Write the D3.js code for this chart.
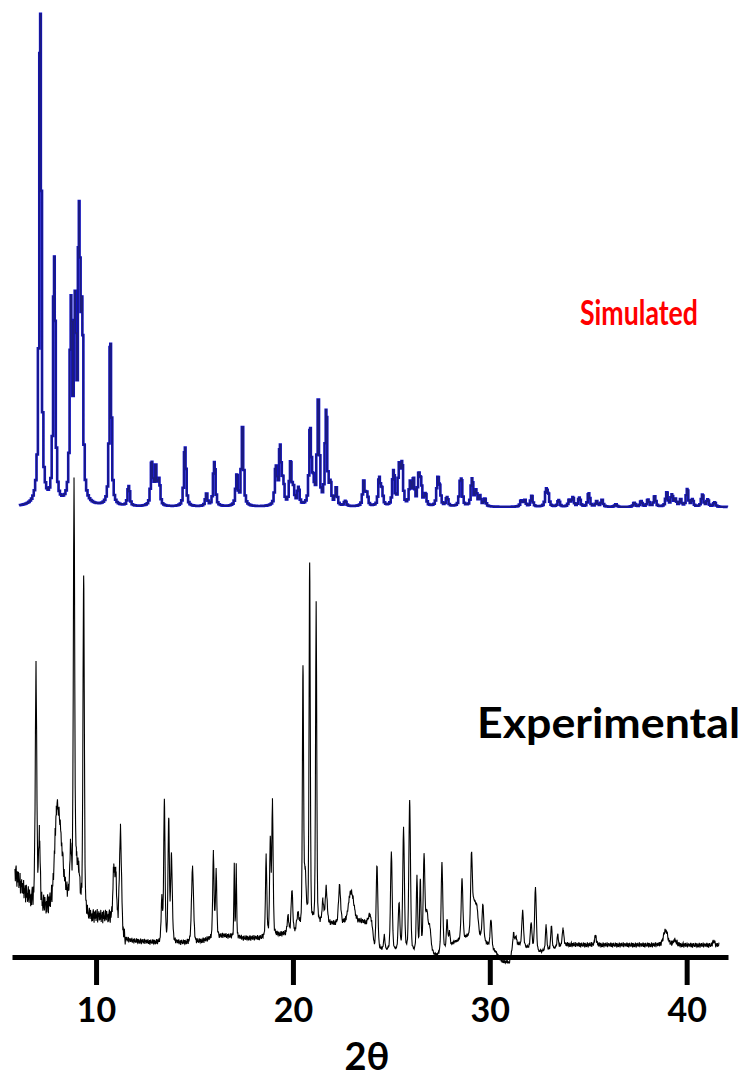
<!DOCTYPE html>
<html>
<head>
<meta charset="utf-8">
<script src="https://cdn.jsdelivr.net/npm/d3@7"></script>
<style>
  html, body { margin: 0; padding: 0; background: #fff; }
  svg { display: block; }
  text { font-family: Lato, "Open Sans", sans-serif; font-weight: bold; }
</style>
</head>
<body>
<svg id="chart" width="748" height="1078"></svg>
<script>
// 2θ range shown on the axis and labelled ticks
const twoThetaRange = [5.73, 42.1];
const tickValues = [10, 20, 30, 40];

// Simulated pattern: reflection positions (2θ, deg) and relative intensities (%)
const simPositions = [7.17, 7.88, 8.73, 8.93, 9.14, 9.29, 10.73, 11.66, 12.83, 13.03, 13.2,
  14.52, 15.61, 16.01, 17.15, 17.44, 19.14, 19.35, 19.5, 19.88, 20.03, 20.28, 20.88, 21.03,
  21.29, 21.69, 21.9, 22.2, 22.66, 23.6, 23.76, 24.39, 24.52, 25.11, 25.4, 25.54, 25.96,
  26.13, 26.39, 26.5, 26.73, 27.36, 27.46, 27.83, 28.5, 28.56, 29.1, 29.3, 29.5, 29.75,
  31.6, 31.78, 32.13, 32.87, 32.97, 33.5, 34.04, 34.22, 34.55, 35.03, 35.43, 35.7, 36.4,
  37.34, 37.69, 38.04, 38.38, 38.99, 39.25, 39.43, 39.69, 40.03, 40.29, 40.8, 41.07, 41.42];
const simIntensities = [100, 50, 39, 37, 55, 35, 33, 4, 8.5, 7.5, 5,
  12, 2.5, 9, 6, 16, 7.5, 11.5, 4.5, 8.5, 3, 3.5, 15, 4,
  21, 19, 4, 3.5, 1, 5, 2.5, 5.5, 3, 7, 7.6, 8, 4.5,
  5, 5.5, 4.5, 2.3, 5.2, 3, 1.8, 3, 4, 5.5, 3, 2, 1.5,
  1.2, 1.3, 2.2, 3.2, 2, 1.3, 1.3, 1.8, 1.8, 2.7, 1.1, 1.4, 0.5,
  0.8, 1.1, 1.4, 2.1, 2.8, 2.3, 1.4, 1.4, 3.5, 1.4, 2.4, 1.4, 0.9];

// Experimental pattern: peak positions, heights above background, widths (FWHM, deg)
const expPositions = [6.95, 7.12, 7.98, 8.12, 8.71, 8.88, 9.0, 9.12, 9.37, 10.9, 11.0, 11.24,
  13.34, 13.47, 13.69, 13.83, 14.9, 15.96, 16.1, 17.02, 17.12, 18.64, 18.85, 18.96,
  19.75, 19.95, 20.25, 20.51, 20.62, 20.85, 21.18, 21.52, 21.69, 22.37, 22.91, 23.05, 23.9,
  24.27, 24.64, 25.0, 25.39, 25.62, 25.93, 26.3, 26.47, 26.66, 26.8, 26.95,
  27.57, 27.83, 27.95, 28.59, 29.07, 29.2, 29.35, 29.65, 30.06,
  31.21, 31.33, 31.67, 32.1, 32.32, 32.86, 33.13, 33.45, 33.72, 35.37, 38.93, 39.4, 41.38];
const expHeights = [49, 14, 8, 17, 10, 88, 7, 6, 71, 10, 9, 21,
  9, 30, 26, 18, 16, 18, 14, 15, 15, 17, 20, 28,
  3.5, 9, 3, 54, 10, 77, 68, 4.5, 7.5, 8, 5, 3, 2,
  18, 3, 21, 10, 26, 32, 16, 15, 20, 8, 5,
  19, 6, 3, 13, 16, 7, 5, 7.5, 6,
  2, 1.5, 7.5, 5.5, 13.5, 5.3, 5, 2.7, 3.6, 2, 3.2, 1, 1];
const expWidths = [0.09, 0.1, 0.2, 0.4, 0.1, 0.08, 0.12, 0.12, 0.08, 0.1, 0.1, 0.12,
  0.08, 0.08, 0.08, 0.1, 0.12, 0.08, 0.08, 0.05, 0.05, 0.08, 0.08, 0.08,
  0.1, 0.1, 0.12, 0.07, 0.12, 0.07, 0.07, 0.1, 0.12, 0.12, 0.25, 0.25, 0.2,
  0.1, 0.08, 0.1, 0.1, 0.1, 0.1, 0.08, 0.08, 0.1, 0.15, 0.15,
  0.1, 0.08, 0.08, 0.1, 0.1, 0.2, 0.15, 0.1, 0.1,
  0.08, 0.08, 0.1, 0.1, 0.1, 0.08, 0.08, 0.08, 0.1, 0.1, 0.25, 0.2, 0.1];

// Experimental background level along 2θ
const bgAngles = [5.88, 6.2, 6.6, 6.9, 7.3, 7.8, 8.5, 9.0, 9.6, 10.6, 11.0, 11.5, 13.2, 15,
  16.5, 17.5, 18.5, 19.3, 20, 20.6, 21.4, 22, 23.5, 24.0, 24.15, 27.1, 27.3, 28.2, 28.9,
  29.5, 30.3, 30.6, 31.0, 31.2, 32.5, 33.0, 33.9, 42];
const bgLevels = [18, 15, 12.5, 11.5, 10.5, 10.5, 12, 12, 8.5, 8.5, 8, 3.5, 3, 3,
  4.5, 4, 4, 4.7, 5, 7, 7, 7, 7.5, 6.5, 1.5, 0.5, 0, 3, 4,
  4, 1, -1, -1.2, 3, 1, 1.5, 2.6, 2.5];

// Counting noise: recorded jitter sequence and its amplitude per 2θ region
const noiseSeq = [0.3, -0.8, 0.5, 0.9, -0.2, -1, 0.6, -0.4, 0.1, 0.8, -0.7, 0.2, -0.3, 1,
  -0.9, 0.4, -0.1, 0.7, -0.6, 0.0, 0.5, -0.5, 0.9, -0.8, 0.2, -0.2, 0.6, -1, 0.3, 0.8,
  -0.4, 0.1, -0.7, 0.4, 0.9, -0.3, -0.6, 0.7, -0.1, 0.2, -0.9];
const noiseStarts = [5.88, 8.0, 9.5, 11.5, 24.0, 33.9];
const noiseAmps = [2.2, 1.6, 1.5, 0.6, 0.3, 0.55];

const svg = d3.select("#chart");
const W = 748, H = 1078;
svg.append("rect").attr("width", W).attr("height", H).attr("fill", "#fff");

const x = d3.scaleLinear().domain(twoThetaRange).range([12, 728]);
const ySim = d3.scaleLinear().domain([0, 100]).range([507, 16]);
const yExp = d3.scaleLinear().domain([0, 100]).range([957, 488]);

// pseudo-Voigt line profile
function pv(t, c, h, w, eta) {
  const d = (t - c) / (w / 2);
  return h * (eta / (1 + d * d) + (1 - eta) * Math.exp(-Math.LN2 * d * d));
}

// simulated profile, sampled on a coarse grid plus each reflection centre
const simGrid = d3.range(6.1, 42.1, 0.07).concat(simPositions).sort((a, b) => a - b);
const simData = simGrid.map(t => {
  let v = 0;
  simPositions.forEach((c, i) => { v += pv(t, c, simIntensities[i], 0.13, 0.7); });
  return [t, v];
});

// experimental profile
const bg = d3.scaleLinear().domain(bgAngles).range(bgLevels).clamp(true);
function noiseAmp(t) {
  let a = noiseAmps[0];
  noiseStarts.forEach((s, i) => { if (t >= s) a = noiseAmps[i]; });
  return a;
}
const expGrid = d3.range(5.88, 41.65, 0.02).concat(expPositions).sort((a, b) => a - b);
const expData = expGrid.map((t, k) => {
  let v = bg(t) + noiseAmp(t) * noiseSeq[k % noiseSeq.length];
  expPositions.forEach((c, i) => { v += pv(t, c, expHeights[i], expWidths[i], 0.3); });
  return [t, v];
});

const simLine = d3.line().x(d => x(d[0])).y(d => ySim(d[1])).curve(d3.curveStep);
// bright blue core under a navy outline
svg.append("path")
  .datum(simData)
  .attr("fill", "none")
  .attr("stroke", "#1010c8")
  .attr("stroke-width", 2.6)
  .attr("d", simLine);
svg.append("path")
  .datum(simData)
  .attr("fill", "none")
  .attr("stroke", "#1c1c7c")
  .attr("stroke-width", 1.3)
  .attr("d", simLine);

svg.append("path")
  .datum(expData)
  .attr("fill", "none")
  .attr("stroke", "#000")
  .attr("stroke-width", 1.1)
  .attr("d", d3.line().x(d => x(d[0])).y(d => yExp(d[1])));

// x axis
const axis = svg.append("g")
  .attr("transform", "translate(0,957)")
  .call(d3.axisBottom(x).tickValues(tickValues).tickSizeOuter(0).tickSizeInner(28).tickFormat(d3.format("d")));
axis.select(".domain").attr("stroke", "#000").attr("stroke-width", 5);
axis.selectAll(".tick line").attr("stroke", "#000").attr("stroke-width", 5);
axis.selectAll(".tick text")
  .attr("fill", "#000")
  .attr("y", 65).attr("dy", 0)
  .style("font-size", "34px");

svg.append("text")
  .attr("x", 367).attr("y", 1070)
  .attr("text-anchor", "middle")
  .style("font-size", "38px")
  .text("2θ");

svg.append("text")
  .attr("x", 580).attr("y", 325)
  .attr("fill", "#ff0000")
  .style("font-size", "34px")
  .attr("textLength", 118)
  .attr("lengthAdjust", "spacingAndGlyphs")
  .text("Simulated");

svg.append("text")
  .attr("x", 477).attr("y", 738)
  .attr("fill", "#000")
  .style("font-size", "42px")
  .attr("textLength", 263)
  .attr("lengthAdjust", "spacingAndGlyphs")
  .text("Experimental");
</script>
</body>
</html>
